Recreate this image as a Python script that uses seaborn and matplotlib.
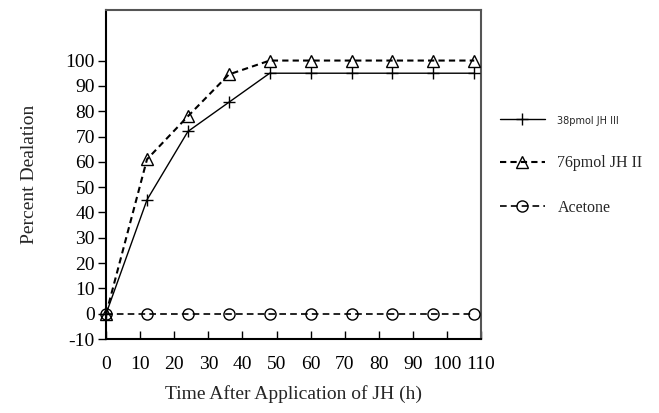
import numpy as np
import pandas as pd
import seaborn as sns
from matplotlib import pyplot as plt

hours = [0, 12, 24, 36, 48, 60, 72, 84, 96, 108]
jh3 = [0, 45, 72, 83.5, 95, 95, 95, 95, 95, 95]
jh2 = [0, 61, 78, 94.5, 100, 100, 100, 100, 100, 100]
acetone = [0, 0, 0, 0, 0, 0, 0, 0, 0, 0]
labels = ['38pmol JH III', '76pmol JH II', 'Acetone']

xticks = list(range(0, 111, 10))
yticks = list(range(-10, 101, 10))

sns.set_style('white')
plt.rcParams['font.family'] = ['Liberation Serif', 'DejaVu Serif']
plt.rcParams['axes.unicode_minus'] = False

df = pd.DataFrame({'Time': hours * 3,
                   'Dealation': jh3 + jh2 + acetone,
                   'Treatment': [labels[0]] * 10 + [labels[1]] * 10 + [labels[2]] * 10})

fig = plt.figure(figsize=(6.59, 4.13), dpi=100)
ax = fig.add_axes([0.161, 0.179, 0.569, 0.797])

styles = {
    labels[0]: dict(marker='+', markersize=9, linewidth=1.0, linestyle='-', markeredgewidth=1.0),
    labels[1]: dict(marker='^', markersize=8, linewidth=1.5, linestyle=(0, (3, 2)),
                    markerfacecolor='none', markeredgewidth=1.0),
    labels[2]: dict(marker='o', markersize=8, linewidth=1.2, linestyle=(0, (4, 2.5)),
                    markerfacecolor='none', markeredgewidth=1.0),
}
for name in labels:
    sub = df[df['Treatment'] == name]
    sns.lineplot(data=sub, x='Time', y='Dealation', ax=ax, color='black', label=name,
                 markeredgecolor='black', clip_on=False, zorder=3, **styles[name])

ax.set_xlim(0, 110)
ax.set_ylim(-10, 120)
ax.set_xticks(xticks)
ax.set_yticks(yticks)
ax.tick_params(axis='x', direction='in', length=6, width=1, labelsize=14, pad=12, colors='black', bottom=True)
ax.tick_params(axis='y', direction='out', length=6, width=1, labelsize=14, pad=2, colors='black', left=True)

for side in ['left', 'bottom']:
    ax.spines[side].set_color('black')
    ax.spines[side].set_linewidth(1.5)
for side in ['top', 'right']:
    ax.spines[side].set_color('#555555')
    ax.spines[side].set_linewidth(1.5)

ax.set_xlabel('Time After Application of JH (h)', fontsize=14, labelpad=9)
ax.set_ylabel('Percent Dealation', fontsize=14, labelpad=20)

leg = ax.legend(loc='upper left', bbox_to_anchor=(1.012, 0.73), frameon=False,
                handlelength=2.8, labelspacing=1.8, handletextpad=0.8, fontsize=11.5)
for t in leg.get_texts():
    if t.get_text() == labels[0]:
        t.set_fontfamily('DejaVu Sans')
        t.set_fontsize(7)

fig.savefig('out.png', dpi=100)
